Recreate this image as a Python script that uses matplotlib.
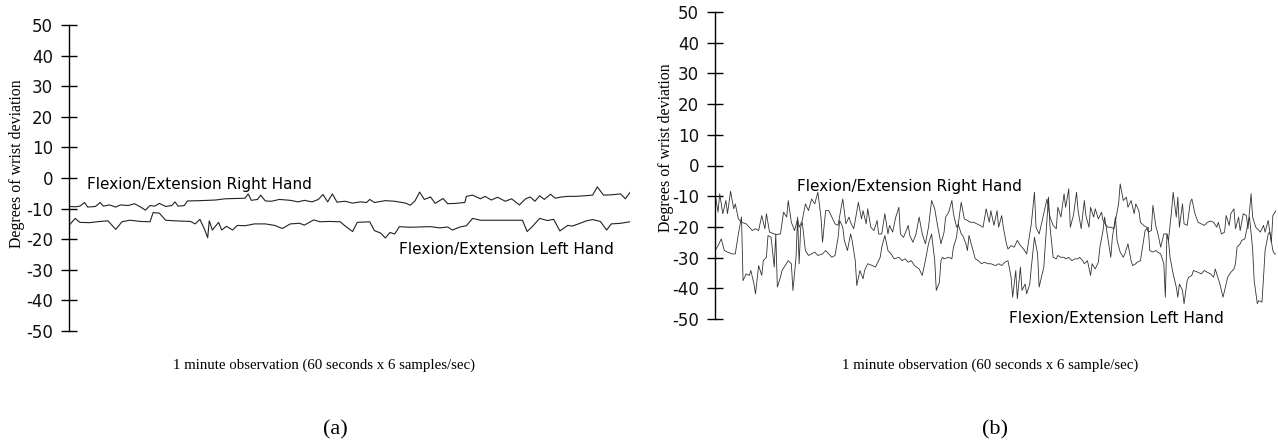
import matplotlib
matplotlib.use("Agg")
import matplotlib.pyplot as plt

plt.rcParams['axes.unicode_minus'] = False

# ---------------- data (a) ----------------
a_right_samples = [0, 4, 7, 10, 12, 17, 20, 22, 26, 30, 33, 38, 42, 46, 49, 52, 55, 58, 62, 66, 68, 70,
                   74, 76, 84, 94, 100, 107, 113, 115, 117, 121, 123, 126, 130, 135, 142, 147, 151, 156,
                   160, 163, 166, 169, 172, 177, 182, 187, 191, 193, 196, 203, 209, 216, 219, 222, 225,
                   228, 232, 235, 240, 243, 248, 254, 255, 259, 264, 267, 271, 275, 280, 284, 289, 293,
                   296, 299, 302, 305, 309, 312, 316, 320, 325, 331, 336, 339, 343, 348, 354, 357, 360]
a_right_values = [-9.3, -9.4, -9.2, -8.0, -9.5, -9.3, -8.0, -9.2, -8.8, -9.5, -8.8, -9.0, -8.4, -9.5, -10.5,
                  -9.0, -9.2, -8.3, -9.3, -9.0, -7.8, -9.2, -9.0, -7.5, -7.4, -7.2, -6.8, -6.7, -6.6, -5.2,
                  -7.3, -7.0, -5.6, -7.5, -7.6, -7.0, -7.3, -7.8, -7.3, -7.8, -7.0, -5.4, -7.8, -5.2, -7.9,
                  -7.6, -8.2, -7.8, -8.0, -7.0, -8.0, -7.4, -7.6, -8.2, -8.9, -7.5, -4.6, -7.0, -6.2, -8.3,
                  -6.7, -8.4, -8.3, -8.0, -6.0, -5.6, -6.8, -6.0, -7.2, -6.3, -7.6, -6.8, -8.8, -6.8, -6.2,
                  -7.6, -5.8, -7.0, -5.3, -6.6, -6.2, -6.0, -6.0, -5.8, -5.6, -2.9, -5.6, -5.5, -5.2, -6.8, -4.7]

a_left_samples = [0, 4, 7, 13, 20, 25, 30, 34, 39, 46, 52, 54, 58, 62, 68, 78, 81, 84, 87, 89, 90, 92, 96,
                  98, 101, 105, 108, 113, 119, 126, 132, 137, 142, 148, 151, 157, 161, 167, 174, 178, 182,
                  185, 193, 196, 200, 203, 206, 209, 212, 219, 225, 232, 238, 243, 246, 251, 255, 259, 264,
                  270, 277, 283, 291, 294, 298, 302, 307, 311, 315, 320, 323, 328, 332, 336, 341, 345, 348,
                  354, 360]
a_left_values = [-15.5, -13.2, -14.5, -14.6, -14.2, -14.0, -16.8, -14.3, -13.8, -14.2, -14.3, -11.3, -11.5,
                 -13.8, -14.0, -14.2, -15.0, -13.5, -16.8, -19.5, -14.0, -17.0, -14.5, -17.0, -15.8, -17.0,
                 -15.5, -15.6, -15.0, -15.0, -15.5, -16.5, -15.0, -14.8, -15.4, -13.7, -14.3, -14.2, -14.3,
                 -16.0, -17.5, -14.5, -14.3, -17.2, -18.0, -19.6, -17.8, -18.3, -15.9, -16.1, -16.0, -15.9,
                 -16.3, -16.0, -17.0, -16.0, -15.6, -13.2, -13.8, -13.8, -13.8, -13.8, -13.8, -17.5, -15.5,
                 -13.2, -13.9, -13.5, -17.3, -15.5, -15.7, -14.8, -14.0, -13.6, -14.2, -17.0, -15.0, -14.8,
                 -14.3]

# ---------------- data (b) ----------------
b_right_samples = [0, 2, 3, 5, 7, 8, 10, 12, 13, 15, 17, 20, 22, 24, 26, 28, 30, 32, 33, 35, 39, 42, 44,
                   46, 47, 49, 51, 53, 54, 56, 58, 60, 62, 64, 66, 68, 69, 71,
                   73, 75, 77, 79, 81, 82, 84, 86, 87, 89, 90, 92, 94, 95, 97, 98, 100, 102, 104, 105, 107,
                   109, 111, 112, 114, 116, 118, 119, 121, 124, 125, 127, 129, 131, 133, 135, 137, 139, 141,
                   143,
                   145, 147, 148, 150, 152, 153, 155, 156, 158, 160, 162, 164, 166, 168, 170, 172, 174, 176,
                   177, 179, 181, 182, 184, 185, 187, 188, 190, 192, 194, 196, 198, 200, 201, 203, 205, 206,
                   208, 210, 213, 215,
                   217, 219, 220, 222, 224, 225, 227, 228, 230, 232, 233, 235, 237, 238, 240, 241, 243, 244,
                   246, 248, 249, 251, 252, 254, 256, 257, 259, 260, 262, 264, 265, 267, 269, 270, 272, 273,
                   275, 277, 278, 280, 281, 283, 284, 286, 288,
                   290, 291, 293, 294, 296, 297, 298, 300, 301, 303, 305, 306, 308, 310, 312, 314, 316, 318,
                   320, 322, 323, 325, 327, 328, 330, 331, 333, 334, 336, 337, 339, 341, 342, 344, 345, 347,
                   348, 350, 352, 353, 355, 357, 358, 360]
b_right_values = [-9.2, -15.2, -9.2, -15.7, -11.4, -15.7, -8.4, -14.1, -12.5, -17.4, -18.5, -19.0, -20.1,
                  -21.2, -20.6, -21.2, -16.3, -20.6, -15.7, -21.7, -22.5, -22.3, -15.2, -16.8, -11.4, -18.5,
                  -21.2, -17.4, -20.1, -17.9, -12.5, -14.7, -10.9, -12.5, -8.7, -16.8, -25.0, -14.7,
                  -14.7, -16.8, -19.0, -19.5, -13.6, -10.9, -19.0, -16.8, -18.5, -20.6, -17.9, -12.0, -17.4,
                  -14.7, -19.0, -14.1, -20.1, -21.2, -17.9, -22.3, -22.3, -15.7, -22.3, -19.5, -21.7, -16.8,
                  -13.6, -22.3, -23.4, -19.5, -22.8, -25.0, -22.3, -16.8, -22.3, -25.5, -20.1, -11.4, -14.1,
                  -20.1,
                  -25.5, -21.7, -16.8, -15.2, -11.4, -15.7, -20.1, -19.5, -12.0, -17.4, -17.9, -18.5, -18.5,
                  -19.0, -19.5, -20.1, -14.1, -18.5, -14.7, -19.5, -14.7, -20.1, -16.3, -20.1, -25.5, -27.2,
                  -26.1, -26.6, -24.4, -26.1, -27.2, -28.8, -25.5, -19.0, -8.7, -20.1, -22.3, -17.9, -10.9,
                  -16.8,
                  -19.5, -20.6, -13.6, -16.8, -9.2, -13.6, -7.6, -20.1, -16.3, -8.7, -14.7, -20.6, -11.4,
                  -16.3, -20.1, -13.6, -16.8, -14.1, -17.4, -15.2, -17.9, -19.5, -20.1, -20.1, -20.6, -17.9,
                  -12.5, -6.0, -11.4, -10.3, -13.6, -11.4, -15.7, -12.5, -14.7, -18.5, -19.5, -20.1, -21.7,
                  -21.2, -13.0, -20.1, -21.7, -26.6, -22.3,
                  -22.3, -24.4, -14.7, -8.7, -16.8, -10.3, -20.1, -12.5, -19.0, -19.5, -12.0, -10.9, -15.7,
                  -18.5, -19.0, -19.5, -18.5, -18.1, -18.5, -20.1, -18.5, -22.3, -21.7, -16.3, -19.5, -15.7,
                  -14.1, -20.6, -16.8, -21.2, -15.7, -16.3, -20.6, -9.2, -16.8, -20.1, -20.6, -21.7, -19.5,
                  -21.7, -17.9, -25.0, -16.3, -14.7]

b_left_samples = [0, 2, 4, 6, 8, 11, 13, 15, 17, 18, 20, 22, 23, 25, 26, 28, 30, 31, 33, 34, 36, 38, 39,
                  40, 42, 43, 45, 47, 49, 50, 52, 53, 54, 55, 56, 58, 60, 62, 64, 66, 69, 71,
                  73, 75, 77, 79, 80, 82, 83, 85, 87, 88, 90, 91, 93, 95, 96, 98, 101, 103, 104, 106, 107,
                  109, 111, 113, 115, 118, 120, 122, 124, 126, 128, 131, 133, 135, 137, 139, 141, 142, 144,
                  145, 146, 147, 150, 152, 153, 155, 156, 158, 159, 161, 162, 163, 165, 167, 169, 171, 173,
                  175, 177, 180, 182, 184, 186, 188, 190, 191, 193, 194, 196, 197, 199, 200, 202, 203, 205,
                  207, 208, 211, 212, 214, 215,
                  217, 219, 220, 222, 224, 225, 227, 229, 231, 233, 234, 236, 237, 239, 241, 242, 244, 246,
                  247, 249, 250, 252, 254, 255, 257, 258, 260, 262, 263, 265, 267, 268, 270, 271, 273, 274,
                  276, 278, 279, 281, 283, 284, 286, 288, 289,
                  290, 291, 292, 294, 296, 297, 298, 300, 301, 303, 304, 306, 307, 310, 312, 314, 316, 318,
                  320, 321, 323, 324, 326, 327, 329, 331, 333, 334, 335, 337, 338, 340, 342, 343, 345, 346,
                  348, 349, 351, 352, 353, 355, 356, 358, 359, 360]
b_left_values = [-27.7, -26.1, -23.9, -27.7, -28.2, -28.8, -28.8, -22.3, -16.8, -37.5, -35.3, -35.8, -34.2,
                 -38.6, -41.8, -32.6, -35.8, -31.0, -29.9, -22.8, -23.4, -33.1, -22.3, -39.6, -36.4, -34.2,
                 -32.6, -31.0, -32.0, -40.7, -29.9, -16.8, -32.0, -20.1, -18.5, -27.7, -29.3, -28.8, -28.2,
                 -29.3, -28.8, -27.7,
                 -28.8, -29.9, -29.3, -23.4, -17.9, -20.1, -24.4, -27.7, -22.3, -24.4, -31.0, -39.1, -34.2,
                 -36.9, -34.2, -32.0, -32.6, -33.1, -32.0, -29.9, -26.6, -22.8, -27.7, -28.8, -30.4, -29.9,
                 -31.0, -30.4, -31.5, -31.0, -32.6, -33.7, -35.8, -31.0, -25.5, -22.3, -31.0, -40.7, -38.0,
                 -31.0, -29.9, -30.4, -29.9, -30.4, -26.6, -23.4, -19.0, -22.3, -22.8, -25.5, -27.7, -22.8,
                 -26.6, -30.4, -31.0, -32.0, -31.5, -32.0, -32.0, -32.6, -32.0, -32.6, -31.5, -31.0, -36.4,
                 -42.9, -34.2, -43.4, -33.1, -40.7, -38.6, -41.8, -38.6, -33.1, -23.4, -28.8, -39.6, -33.1,
                 -25.5, -10.3, -20.1,
                 -29.9, -30.4, -29.3, -29.9, -29.9, -30.4, -29.9, -31.0, -30.4, -30.4, -29.9, -31.0, -32.0,
                 -31.0, -35.8, -32.0, -33.7, -31.5, -26.6, -21.2, -16.8, -23.4, -29.9, -23.4, -16.8, -24.4,
                 -28.2, -29.9, -28.8, -25.5, -31.0, -32.6, -32.0, -31.5, -31.0, -27.7, -21.2, -20.1, -27.7,
                 -28.2, -27.7, -28.2, -28.8, -32.0, -42.9,
                 -22.3, -24.4, -29.9, -35.3, -39.6, -42.9, -38.6, -40.7, -45.0, -37.5, -36.4, -35.8, -34.2,
                 -34.8, -35.3, -34.2, -34.8, -35.3, -36.4, -33.7, -37.0, -38.6, -42.9, -40.7, -36.4, -34.8,
                 -33.7, -32.0, -26.6, -25.5, -24.4, -23.9, -19.0, -16.8, -27.2, -37.5, -45.0, -44.0, -44.5,
                 -36.4, -27.7, -22.3, -21.7, -27.7, -28.8, -28.8]

y_ticks = [50, 40, 30, 20, 10, 0, -10, -20, -30, -40, -50]
label_right = "Flexion/Extension Right Hand"
label_left = "Flexion/Extension Left Hand"
y_label = "Degrees of wrist deviation"
x_label_a = "1 minute observation (60 seconds x 6 samples/sec)"
x_label_b = "1 minute observation (60 seconds x 6 sample/sec)"

W, H = 1278, 442
fig = plt.figure(figsize=(W / 100, H / 100), dpi=100)


def setup(ax):
    ax.set_xlim(0, 360)
    ax.set_ylim(-50, 50)
    for s in ("top", "right", "bottom"):
        ax.spines[s].set_visible(False)
    ax.spines["left"].set_linewidth(1.0)
    ax.set_yticks(y_ticks)
    ax.set_yticklabels([str(t) for t in y_ticks], fontsize=12, family="DejaVu Sans", color="#111111")
    ax.tick_params(axis="y", direction="inout", length=11, width=1.0, pad=6)
    ax.set_xticks([])
    ax.patch.set_visible(False)


# panel (a)
ax1 = fig.add_axes([69 / W, 1 - 331 / H, 561 / W, 306 / H])
setup(ax1)
ax1.plot(a_right_samples, a_right_values, color="#222222", lw=0.8)
ax1.plot(a_left_samples, a_left_values, color="#222222", lw=0.8)
ax1.text(11.5, -2, label_right, fontsize=11, family="DejaVu Sans", va="center", ha="left")
ax1.text(212, -23.5, label_left, fontsize=11.1, family="DejaVu Sans", va="center", ha="left")

# panel (b)
ax2 = fig.add_axes([715 / W, 1 - 319 / H, 561 / W, 307 / H])
setup(ax2)
ax2.plot(b_right_samples, b_right_values, color="#333333", lw=0.6)
ax2.plot(b_left_samples, b_left_values, color="#333333", lw=0.6)
ax2.text(52.6, -6.8, label_right, fontsize=11, family="DejaVu Sans", va="center", ha="left")
ax2.text(188.7, -49.8, label_left, fontsize=11.1, family="DejaVu Sans", va="center", ha="left")

# y labels
fig.text(17 / W, 1 - 164 / H, y_label, rotation=90, ha="center", va="center",
         fontsize=11.4, family="Liberation Serif")
fig.text(666 / W, 1 - 148 / H, y_label, rotation=90, ha="center", va="center",
         fontsize=11.4, family="Liberation Serif")

# x labels
fig.text(324 / W, 1 - 365 / H, x_label_a, ha="center", va="center", fontsize=10.7,
         family="Liberation Serif")
fig.text(990 / W, 1 - 365 / H, x_label_b, ha="center", va="center", fontsize=10.7,
         family="Liberation Serif")

fig.text(335 / W, 1 - 430 / H, "(a)", ha="center", va="center", fontsize=16, family="Liberation Serif")
fig.text(995 / W, 1 - 430 / H, "(b)", ha="center", va="center", fontsize=16, family="Liberation Serif")

fig.savefig("out.png", dpi=100)
